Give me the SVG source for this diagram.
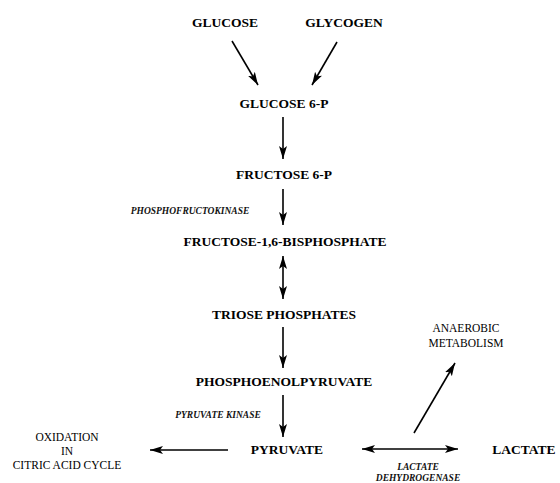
<svg xmlns="http://www.w3.org/2000/svg" width="560" height="483" viewBox="0 0 560 483">
<style>
.n{font-family:"Liberation Serif","Times New Roman",serif;font-weight:bold;font-size:13.5px;fill:#000;text-anchor:middle}
.e{font-family:"Liberation Serif","Times New Roman",serif;font-weight:bold;font-style:italic;font-size:9.5px;fill:#111;text-anchor:middle}
.s{font-family:"Liberation Serif","Times New Roman",serif;font-size:11.5px;fill:#000;text-anchor:middle}
.c{stroke:#000;stroke-width:1.6;fill:none}
</style>
<defs>
<marker id="ah" markerUnits="userSpaceOnUse" markerWidth="14" markerHeight="10" refX="13" refY="4" orient="auto-start-reverse">
<path d="M0,0 L13,4 L0,8 L3,4 Z" fill="#000"/>
</marker>
</defs>
<rect width="560" height="483" fill="#fff"/>
<g id="connectors">
<line class="c" x1="232" y1="41" x2="258" y2="85" marker-end="url(#ah)"/>
<line class="c" x1="337" y1="42" x2="312" y2="85" marker-end="url(#ah)"/>
<line class="c" x1="283" y1="117" x2="283" y2="159" marker-end="url(#ah)"/>
<line class="c" x1="283" y1="189" x2="283" y2="225" marker-end="url(#ah)"/>
<line class="c" x1="283" y1="256" x2="283" y2="299" marker-start="url(#ah)" marker-end="url(#ah)"/>
<line class="c" x1="283" y1="327" x2="283" y2="368" marker-end="url(#ah)"/>
<line class="c" x1="283" y1="395" x2="283" y2="437" marker-end="url(#ah)"/>
<line class="c" x1="228" y1="450" x2="150" y2="450" marker-end="url(#ah)"/>
<line class="c" x1="362" y1="449" x2="458" y2="449" marker-start="url(#ah)" marker-end="url(#ah)"/>
<line class="c" x1="414" y1="433" x2="455" y2="363" marker-end="url(#ah)"/>
</g>
<g id="glucose"><text class="n" x="225" y="27">GLUCOSE</text></g>
<g id="glycogen"><text class="n" x="344" y="27">GLYCOGEN</text></g>
<g id="glucose6p"><text class="n" x="284" y="108">GLUCOSE 6-P</text></g>
<g id="fructose6p"><text class="n" x="284" y="179">FRUCTOSE 6-P</text></g>
<g id="pfk"><text class="e" x="190" y="214">PHOSPHOFRUCTOKINASE</text></g>
<g id="fbp"><text class="n" x="285" y="246">FRUCTOSE-1,6-BISPHOSPHATE</text></g>
<g id="triose"><text class="n" x="284" y="319">TRIOSE PHOSPHATES</text></g>
<g id="anaerobic"><text class="s" x="466" y="332">ANAEROBIC</text><text class="s" x="466" y="347">METABOLISM</text></g>
<g id="pep"><text class="n" x="284" y="386">PHOSPHOENOLPYRUVATE</text></g>
<g id="pk"><text class="e" x="218" y="418">PYRUVATE KINASE</text></g>
<g id="oxidation"><text class="s" x="67" y="441">OXIDATION</text><text class="s" x="67" y="455">IN</text><text class="s" x="67" y="469">CITRIC ACID CYCLE</text></g>
<g id="pyruvate"><text class="n" x="287" y="454">PYRUVATE</text></g>
<g id="lactate"><text class="n" x="524" y="454">LACTATE</text></g>
<g id="ldh"><text class="e" x="418" y="470">LACTATE</text><text class="e" x="418" y="481">DEHYDROGENASE</text></g>
</svg>
